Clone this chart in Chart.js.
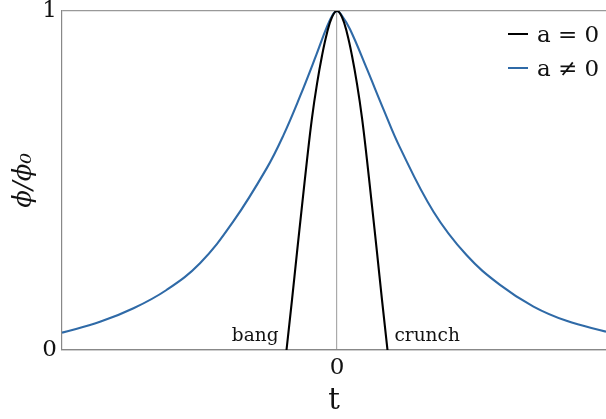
<!DOCTYPE html>
<html>
<head>
<meta charset="utf-8">
<script src="https://cdn.jsdelivr.net/npm/chart.js@4/dist/chart.umd.min.js"></script>
<style>
  html, body { margin: 0; padding: 0; background: #ffffff; }
  #wrap { width: 606px; height: 419px; position: relative; }
</style>
</head>
<body>
<div id="wrap"><canvas id="c" width="606" height="419"></canvas></div>
<script>
// ---- data ----
const tBlue   = [-5.5, -4.74, -4.07, -3.41, -2.74, -2.07, -1.41, -1.07, -0.74, -0.41, -0.21, -0.08, 0, 0.08, 0.26, 0.59, 0.93, 1.26, 1.93, 2.59, 3.26, 3.93, 4.59, 5.38];
const phiBlue = [0.051, 0.083, 0.123, 0.177, 0.256, 0.38, 0.535, 0.634, 0.748, 0.872, 0.95, 0.99, 1.0, 0.99, 0.946, 0.832, 0.71, 0.597, 0.408, 0.28, 0.192, 0.128, 0.086, 0.054];

const tBlack   = [-1.01, -0.9, -0.8, -0.7, -0.6, -0.5, -0.4, -0.3, -0.2, -0.1, 0, 0.1, 0.2, 0.3, 0.4, 0.5, 0.6, 0.7, 0.8, 0.9, 1.01];
const phiBlack = [0, 0.148, 0.288, 0.425, 0.56, 0.685, 0.785, 0.868, 0.935, 0.982, 1.0, 0.982, 0.935, 0.868, 0.785, 0.685, 0.56, 0.425, 0.288, 0.148, 0];

const xTicks = [0];
const yTicks = [0, 1];
const tRange = [-5.5, 5.38];
const seriesLabels = ['a = 0', 'a \u2260 0'];
const notes = [{ text: 'bang', t: -1.01, align: 'right' }, { text: 'crunch', t: 1.01, align: 'left' }];

const BLUE = '#2f6aa7';
const SERIF = '"DejaVu Serif", serif';

const toPts = (xs, ys) => xs.map((x, i) => ({ x: x, y: ys[i] }));

const extras = {
  id: 'extras',
  afterDatasetsDraw(chart) {
    const ctx = chart.ctx;
    const xs = chart.scales.x;
    ctx.save();
    // annotations
    ctx.fillStyle = '#111';
    ctx.font = '18.5px ' + SERIF;
    ctx.textBaseline = 'alphabetic';
    notes.forEach(n => {
      const px = xs.getPixelForValue(n.t);
      ctx.textAlign = n.align;
      ctx.fillText(n.text, n.align === 'right' ? px - 8 : px + 7, 341);
    });
    // legend
    const items = [{ c: '#000', l: seriesLabels[0], y: 42 }, { c: BLUE, l: seriesLabels[1], y: 76 }];
    ctx.font = '23px ' + SERIF;
    ctx.textAlign = 'left';
    items.forEach(it => {
      ctx.strokeStyle = it.c;
      ctx.lineWidth = 2;
      ctx.beginPath();
      ctx.moveTo(508, it.y - 8);
      ctx.lineTo(528, it.y - 8);
      ctx.stroke();
      ctx.fillStyle = '#111';
      ctx.fillText(it.l, 537, it.y);
    });
    ctx.restore();
  }
};

new Chart(document.getElementById('c'), {
  type: 'scatter',
  data: {
    datasets: [
      { label: seriesLabels[0], data: toPts(tBlack, phiBlack), showLine: true, borderColor: '#000', borderWidth: 2.1, pointRadius: 0, tension: 0.4, fill: false },
      { label: seriesLabels[1], data: toPts(tBlue, phiBlue), showLine: true, borderColor: BLUE, borderWidth: 2.1, pointRadius: 0, tension: 0.4, fill: false }
    ]
  },
  options: {
    responsive: false,
    animation: false,
    devicePixelRatio: 1,
    layout: { padding: { top: 11, right: 0, left: 0, bottom: 0 } },
    plugins: { legend: { display: false }, tooltip: { enabled: false } },
    scales: {
      x: {
        type: 'linear', min: tRange[0], max: tRange[1],
        afterBuildTicks: s => { s.ticks = xTicks.map(v => ({ value: v })); },
        afterFit: s => { s.height = 69; s.paddingLeft = 0; s.paddingRight = 0; },
        grid: { color: '#aaaaaa', lineWidth: 1.2, drawTicks: false },
        border: { display: true, color: '#888888', width: 1.2 },
        ticks: { padding: 4, color: '#111', font: { family: SERIF, size: 23 }, callback: v => String(v) },
        title: { display: true, text: 't', color: '#111', font: { family: SERIF, size: 29 }, padding: { top: 0, bottom: 0 } }
      },
      y: {
        type: 'linear', min: 0, max: 1,
        afterBuildTicks: s => { s.ticks = yTicks.map(v => ({ value: v })); },
        afterFit: s => { s.width = 62; s.paddingTop = 0; s.paddingBottom = 0; },
        grid: { color: '#999999', lineWidth: 1.2, drawTicks: false },
        border: { display: true, color: '#888888', width: 1.2 },
        ticks: { padding: 5, color: '#111', font: { family: SERIF, size: 23 }, callback: v => String(v) },
        title: { display: true, text: '\u03D5/\u03D5\u2080', color: '#111', font: { family: SERIF, size: 26, style: 'italic' }, padding: { top: 9, bottom: 0 } }
      }
    }
  },
  plugins: [extras]
});
</script>
</body>
</html>
